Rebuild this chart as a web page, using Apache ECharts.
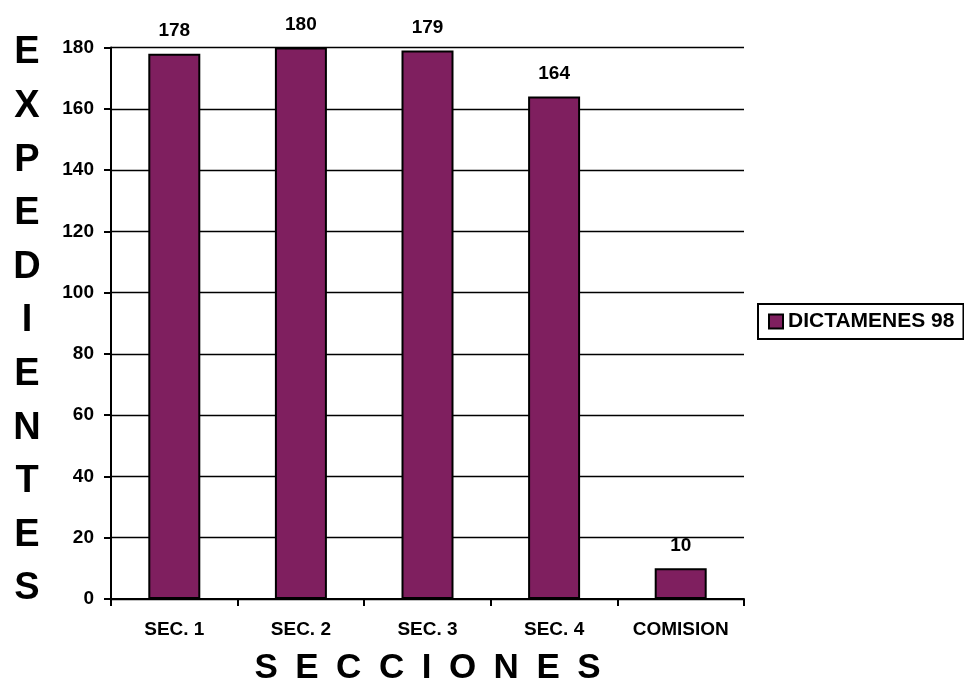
<!DOCTYPE html>
<html>
<head>
<meta charset="utf-8">
<script src="https://cdn.jsdelivr.net/npm/echarts@6/dist/echarts.min.js"></script>
<style>
  html, body { margin: 0; padding: 0; background: #fff; }
  #chart { width: 964px; height: 691px; }
</style>
</head>
<body>
<div id="chart"></div>
<script>
const categories = ['SEC. 1', 'SEC. 2', 'SEC. 3', 'SEC. 4', 'COMISION'];
const values = [178, 180, 179, 164, 10];
const seriesName = 'DICTAMENES 98';
const yTitle = 'EXPEDIENTES';
const xTitle = 'SECCIONES';
const yMin = 0, yMax = 180, yStep = 20;

const FONT = '"Liberation Sans", Arial, sans-serif';
const chart = echarts.init(document.getElementById('chart'), null, { renderer: 'canvas' });

chart.setOption({
  backgroundColor: '#ffffff',
  animation: false,
  grid: { left: 111, right: 220, top: 47.5, bottom: 91, containLabel: false },
  legend: {
    show: true,
    left: 758,
    top: 304,
    orient: 'vertical',
    padding: [7, 9, 7, 10],
    borderColor: '#000',
    borderWidth: 2,
    itemWidth: 14,
    itemHeight: 14,
    itemGap: 5,
    icon: 'rect',
    textStyle: { fontFamily: FONT, fontWeight: 'bold', fontSize: 21, color: '#000', padding: [0, 0, 0, 0] },
    data: [seriesName]
  },
  xAxis: {
    type: 'category',
    data: categories,
    boundaryGap: true,
    axisLine: { show: true, lineStyle: { color: '#000', width: 2 } },
    axisTick: { show: true, alignWithLabel: false, length: 7, lineStyle: { color: '#000', width: 2 } },
    axisLabel: { fontFamily: FONT, fontWeight: 'bold', fontSize: 19, color: '#000', margin: 21 },
    name: xTitle.split('').join('\u2002'),
    nameLocation: 'middle',
    nameGap: 52,
    nameTextStyle: { fontFamily: FONT, fontWeight: 'bold', fontSize: 35, color: '#000' }
  },
  yAxis: {
    type: 'value',
    min: yMin,
    max: yMax,
    interval: yStep,
    axisLine: { show: true, lineStyle: { color: '#000', width: 2 } },
    axisTick: { show: true, length: 7, lineStyle: { color: '#000', width: 2 } },
    axisLabel: { fontFamily: FONT, fontWeight: 'bold', fontSize: 19, color: '#000', margin: 17 },
    splitLine: { show: true, lineStyle: { color: '#000', width: 1.3 } }
  },
  graphic: [{
    type: 'text',
    x: 27,
    y: 321,
    style: {
      text: yTitle.split('').join('\n'),
      fontFamily: FONT,
      fontWeight: 'bold',
      fontSize: 38,
      lineHeight: 53.6,
      fill: '#000',
      align: 'center',
      verticalAlign: 'middle'
    }
  }],
  series: [{
    name: seriesName,
    type: 'bar',
    data: values,
    barWidth: 52,
    itemStyle: { color: '#7F1F5F', borderColor: '#000', borderWidth: 2 },
    label: {
      show: true,
      position: 'top',
      distance: 13,
      fontFamily: FONT,
      fontWeight: 'bold',
      fontSize: 19,
      color: '#000'
    }
  }]
});
</script>
</body>
</html>
